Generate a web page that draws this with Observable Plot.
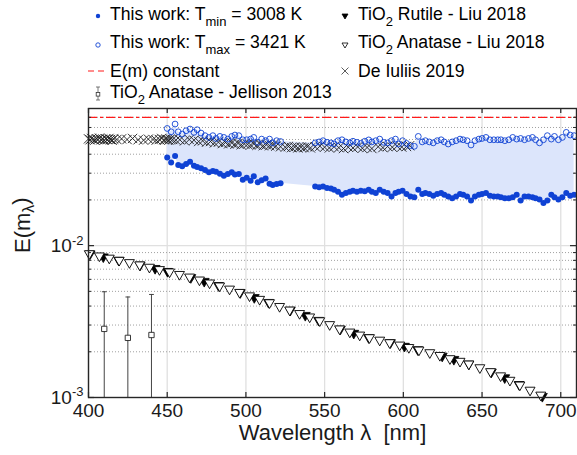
<!DOCTYPE html>
<html>
<head>
<meta charset="utf-8">
<script src="https://cdn.jsdelivr.net/npm/d3@7"></script>
<script src="https://cdn.jsdelivr.net/npm/@observablehq/plot@0.6"></script>
<style>
  html, body { margin: 0; padding: 0; background: #fff; }
  #wrap { width: 577px; height: 455px; position: relative; font-family: "Liberation Sans", Arial, Helvetica, sans-serif; }
  #wrap svg { display: block; }
  #legend { position: absolute; left: 0; top: 0; z-index: 2; overflow: visible; }
  #plotholder { position: absolute; left: 0; top: 100px; }
</style>
</head>
<body>
<div id="wrap"><div id="plotholder"></div></div>
<script>
// ---------------- data ----------------
const xTicks = [400, 450, 500, 550, 600, 650, 700];
const yTicksMajor = [0.001, 0.01];
const yTicksMinor = [0.002, 0.003, 0.004, 0.005, 0.006, 0.007, 0.008, 0.009, 0.02, 0.03, 0.04, 0.05, 0.06, 0.07];
const emConstant = 0.07;

// This work (T_min filled, T_max open)
const lambdaThisWork = [450, 452.5, 455, 457, 459.5, 462, 464.5, 467, 469, 471.5, 474, 476.5, 479, 481, 483.5, 486, 488.5, 491, 493, 495.5, 498, 500.5, 503, 505, 507.5, 510, 512.5, 515, 517, 519.5, 522,
  544, 546.5, 549, 551.5, 554, 556, 558.5, 561, 563.5, 566, 568, 570.5, 573, 575.5, 578, 580, 582.5, 585, 587.5, 590, 592.5, 595, 597, 599.5, 602, 604.5, 607, 609.5, 612, 614, 616.5, 619, 621.5, 624, 626, 628.5, 631, 633.5, 636, 638, 640.5, 643, 645.5, 648, 650, 652.5, 655, 657.5, 660, 662, 664.5, 667, 669.5, 672, 674.5, 677, 679.5, 682, 684, 686.5, 689, 691.5, 694, 696, 698.5, 701, 703.5, 706, 708.5];
const tMinValues = [0.0381, 0.0353, 0.0390, 0.0340, 0.0333, 0.0345, 0.0357, 0.0336, 0.0330, 0.0323, 0.0315, 0.0304, 0.0310, 0.0307, 0.0298, 0.0289, 0.0296, 0.0304, 0.0294, 0.0296, 0.0272, 0.0280, 0.0268, 0.0286, 0.0261, 0.0270, 0.0277, 0.0256, 0.0251, 0.0255, 0.0258,
  0.0245, 0.0242, 0.0245, 0.0240, 0.0238, 0.0233, 0.0226, 0.0216, 0.0222, 0.0226, 0.0230, 0.0226, 0.0230, 0.0228, 0.0233, 0.0226, 0.0222, 0.0233, 0.0226, 0.0222, 0.0211, 0.0222, 0.0226, 0.0230, 0.0219, 0.0211, 0.0208, 0.0233, 0.0219, 0.0222, 0.0219, 0.0213, 0.0219, 0.0222, 0.0216, 0.0211, 0.0205, 0.0211, 0.0219, 0.0216, 0.0211, 0.0198, 0.0211, 0.0216, 0.0219, 0.0222, 0.0213, 0.0211, 0.0211, 0.0208, 0.0205, 0.0205, 0.0208, 0.0216, 0.0198, 0.0211, 0.0211, 0.0208, 0.0205, 0.0201, 0.0191, 0.0198, 0.0216, 0.0208, 0.0201, 0.0208, 0.0222, 0.0213, 0.0216];
const tMaxValues = [0.0591, 0.0562, 0.0632, 0.0562, 0.0543, 0.0571, 0.0586, 0.0557, 0.0580, 0.0551, 0.0530, 0.0516, 0.0530, 0.0508, 0.0524, 0.0516, 0.0503, 0.0524, 0.0535, 0.0530, 0.0498, 0.0498, 0.0503, 0.0516, 0.0479, 0.0503, 0.0491, 0.0503, 0.0475, 0.0491, 0.0485,
  0.0475, 0.0482, 0.0491, 0.0479, 0.0475, 0.0468, 0.0491, 0.0498, 0.0482, 0.0475, 0.0487, 0.0479, 0.0471, 0.0487, 0.0497, 0.0482, 0.0491, 0.0503, 0.0479, 0.0475, 0.0491, 0.0503, 0.0467, 0.0491, 0.0471, 0.0455, 0.0451, 0.0524, 0.0482, 0.0491, 0.0482, 0.0475, 0.0491, 0.0498, 0.0482, 0.0467, 0.0482, 0.0491, 0.0503, 0.0498, 0.0491, 0.0460, 0.0491, 0.0503, 0.0508, 0.0516, 0.0498, 0.0498, 0.0498, 0.0498, 0.0491, 0.0498, 0.0516, 0.0503, 0.0508, 0.0498, 0.0508, 0.0516, 0.0498, 0.0475, 0.0498, 0.0530, 0.0503, 0.0524, 0.0498, 0.0516, 0.0557, 0.0535, 0.0530];

// De Iuliis 2019
const lambdaDeIuliis = [400, 401, 402, 403, 404, 405, 406, 407, 408, 409, 410, 411, 412, 413, 414, 415, 416, 418, 421, 424.5, 428, 431.5, 435, 438, 441, 443, 445, 446.5, 448, 449, 450, 451, 452, 453.5, 455.5, 458, 461, 464, 467, 470, 472.5, 475, 477.5, 480, 482.5, 485, 487, 489, 491, 493, 495, 497, 499, 501, 503, 505, 507, 509, 511, 513, 515, 517, 519, 522, 525, 527, 529, 531, 533, 535, 537, 539, 541, 544, 547, 550, 553, 556, 559, 562, 565, 568, 571, 574, 577, 580, 584, 587, 590, 593, 596, 599, 602, 604];
const deIuliisValues = [0.0505, 0.0498, 0.0508, 0.0500, 0.0495, 0.0505, 0.0500, 0.0510, 0.0498, 0.0503, 0.0495, 0.0505, 0.0500, 0.0508, 0.0500, 0.0495, 0.0503, 0.0500, 0.0505, 0.0500, 0.0508, 0.0498, 0.0495, 0.0503, 0.0500, 0.0495, 0.0500, 0.0508, 0.0498, 0.0503, 0.0500, 0.0495, 0.0503, 0.0500, 0.0495, 0.0498, 0.0490, 0.0500, 0.0495, 0.0485, 0.0490, 0.0480, 0.0485, 0.0475, 0.0480, 0.0470, 0.0478, 0.0468, 0.0475, 0.0465, 0.0472, 0.0462, 0.0468, 0.0465, 0.0460, 0.0468, 0.0458, 0.0465, 0.0455, 0.0462, 0.0455, 0.0460, 0.0452, 0.0448, 0.0445, 0.0450, 0.0442, 0.0446, 0.0440, 0.0445, 0.0442, 0.0448, 0.0440, 0.0448, 0.0452, 0.0445, 0.0440, 0.0448, 0.0442, 0.0436, 0.0445, 0.0440, 0.0447, 0.0438, 0.0443, 0.0436, 0.0448, 0.0442, 0.0450, 0.0445, 0.0452, 0.0446, 0.0450, 0.0455];

// TiO2 Rutile - Liu 2018 (filled triangles)
const lambdaRutile = [401, 409.4, 419.2, 432.8, 442.3, 450.2, 465, 473.5, 482.6, 496.4, 505.3, 514.4, 528.2, 537.7, 546.2, 560, 568.5, 578, 591.8, 600.7, 609.2, 624.7, 632.1, 641.6, 655.9, 664.4, 673.5, 688.3];
const rutileValues = [0.00877, 0.00838, 0.00796, 0.00740, 0.00703, 0.00672, 0.00612, 0.00578, 0.00542, 0.00487, 0.00452, 0.00420, 0.00373, 0.00345, 0.00320, 0.00280, 0.00263, 0.00246, 0.00228, 0.00216, 0.00205, 0.00186, 0.00177, 0.00165, 0.00146, 0.00134, 0.00121, 0.00101];

// TiO2 Anatase - Liu 2018 (open triangles)
const lambdaAnatase = [400.5, 406.9, 413.2, 419.5, 426, 432.5, 438.7, 445.1, 451.5, 457.8, 464.2, 470.5, 476.9, 483.3, 489.6, 496, 502.3, 508.7, 515, 521.4, 527.8, 534.1, 540.5, 546.9, 553.2, 559.5, 566, 572.3, 578.5, 585, 591.3, 597.7, 603.5, 609.9, 616.8, 623.2, 629.6, 636, 641.6, 648.6, 655.4, 661.8, 667.7, 674, 680.5, 687.3];
const anataseValues = [0.00879, 0.00850, 0.00822, 0.00795, 0.00768, 0.00742, 0.00716, 0.00691, 0.00667, 0.00642, 0.00617, 0.00590, 0.00564, 0.00539, 0.00514, 0.00489, 0.00464, 0.00440, 0.00418, 0.00395, 0.00374, 0.00355, 0.00337, 0.00318, 0.00300, 0.00281, 0.00268, 0.00256, 0.00246, 0.00237, 0.00228, 0.00220, 0.00212, 0.00204, 0.00196, 0.00188, 0.00179, 0.00172, 0.00165, 0.00156, 0.00147, 0.00138, 0.00129, 0.00120, 0.00111, 0.00103];

// TiO2 Anatase - Jellison 2013 (error bars)
const lambdaJellison = [410, 425, 440];
const jellisonValues = [0.00283, 0.00247, 0.00258];
const jellisonUpper = [0.00497, 0.00459, 0.00477];
const jellisonLower = [0.0006, 0.0005, 0.0005];

// text
const xLabel = "Wavelength \u03bb  [nm]";
const yLabelParts = ["E(m", "\u03bb", ")"];
const legendLabels = [
  [["This work: T", ""], ["min", "sub"], [" = 3008 K", ""]],
  [["This work: T", ""], ["max", "sub"], [" = 3421 K", ""]],
  [["E(m) constant", ""]],
  [["TiO", ""], ["2", "sub"], [" Anatase - Jellison 2013", ""]],
  [["TiO", ""], ["2", "sub"], [" Rutile - Liu 2018", ""]],
  [["TiO", ""], ["2", "sub"], [" Anatase - Liu 2018", ""]],
  [["De Iuliis 2019", ""]]
];

// ---------------- styles ----------------
const BLUE = "#0f42d4";
const FILL = "#dce5fb";
const W = 577, H = 355, mT = 8, mB = 58, mL = 88, mR = 1;
const innerW = W - mL - mR, innerH = H - mT - mB;

const thisWork = lambdaThisWork.map((x, i) => ({x, lo: tMinValues[i], hi: tMaxValues[i]}));
const deIuliis = lambdaDeIuliis.map((x, i) => ({x, y: deIuliisValues[i]}));
const rutile = lambdaRutile.map((x, i) => ({x, y: rutileValues[i]}));
const anatase = lambdaAnatase.map((x, i) => ({x, y: anataseValues[i]}));
const jellison = lambdaJellison.map((x, i) => ({x, v: jellisonValues[i], hi: jellisonUpper[i], lo: jellisonLower[i]}));

const triangleDown = {
  draw(ctx, size) {
    const s = Math.sqrt(size);
    ctx.moveTo(-0.8 * s, -0.55 * s);
    ctx.lineTo(0.8 * s, -0.55 * s);
    ctx.lineTo(0, 0.85 * s);
    ctx.closePath();
  }
};
const capSymbol = {
  draw(ctx, size) {
    const s = Math.sqrt(size);
    ctx.moveTo(-0.45 * s, 0);
    ctx.lineTo(0.45 * s, 0);
  }
};

const wrap = document.getElementById("wrap");

// ---------------- plot ----------------
const plot = Plot.plot({
  width: W, height: H,
  marginTop: mT, marginBottom: mB, marginLeft: mL, marginRight: mR,
  x: {domain: [400, 710]},
  y: {type: "log", domain: [0.001, 0.08]},
  style: {fontFamily: "Liberation Sans, Arial, Helvetica, sans-serif", fontSize: "19px", color: "#1a1a1a", background: "white", overflow: "visible"},
  marks: [
    // grid
    Plot.ruleX(xTicks, {stroke: "#e0e0e0", strokeWidth: 1.3}),
    Plot.ruleY(yTicksMinor, {stroke: "#a0a0a0", strokeWidth: 1, strokeDasharray: "1,2"}),
    Plot.ruleY([0.01], {stroke: "#e0e0e0", strokeWidth: 1.3}),
    // shaded band
    Plot.areaY(thisWork, {x: "x", y1: "lo", y2: "hi", fill: FILL, curve: "linear"}),
    // E(m) constant
    Plot.ruleY([emConstant], {stroke: "#ff1a1a", strokeWidth: 1.3, strokeDasharray: "9,3,3,3"}),
    // De Iuliis
    Plot.dot(deIuliis, {x: "x", y: "y", symbol: "times", r: 4.3, stroke: "#1e1e1e", strokeWidth: 0.9}),
    // Liu 2018
    Plot.dot(rutile, {x: "x", y: "y", symbol: triangleDown, r: 3.5, fill: "#000", stroke: "#000", strokeWidth: 0.8}),
    Plot.dot(anatase, {x: "x", y: "y", symbol: triangleDown, r: 3.5, fill: "#fff", stroke: "#000", strokeWidth: 0.9}),
    // Jellison error bars
    Plot.ruleX(jellison, {x: "x", y1: "lo", y2: "hi", stroke: "#444", strokeWidth: 1, clip: true}),
    Plot.dot(jellison, {x: "x", y: "hi", symbol: capSymbol, r: 3, stroke: "#444", strokeWidth: 1}),
    Plot.dot(jellison, {x: "x", y: "v", symbol: "square", r: 3, fill: "#fff", stroke: "#222", strokeWidth: 0.9}),
    // This work
    Plot.dot(thisWork, {x: "x", y: "hi", r: 2.9, fill: "none", stroke: BLUE, strokeWidth: 0.9}),
    Plot.dot(thisWork, {x: "x", y: "lo", r: 3, fill: BLUE, stroke: "none"}),
    // box + inward ticks
    Plot.frame({stroke: "#262626", strokeWidth: 1.4}),
    Plot.ruleX(xTicks, {insetTop: innerH - 5, stroke: "#262626", strokeWidth: 1.2}),
    Plot.ruleX(xTicks, {insetBottom: innerH - 5, stroke: "#262626", strokeWidth: 1.2}),
    Plot.ruleY(yTicksMajor, {insetRight: innerW - 6, stroke: "#262626", strokeWidth: 1.2}),
    Plot.ruleY(yTicksMajor, {insetLeft: innerW - 6, stroke: "#262626", strokeWidth: 1.2}),
    Plot.ruleY(yTicksMinor, {insetRight: innerW - 3, stroke: "#262626", strokeWidth: 1}),
    Plot.ruleY(yTicksMinor, {insetLeft: innerW - 3, stroke: "#262626", strokeWidth: 1}),
    // axes labels
    Plot.axisX({ticks: xTicks, tickSize: 0, tickPadding: 6, tickFormat: d => String(d), label: null}),
    Plot.axisY({ticks: yTicksMajor, tickSize: 0, tickPadding: 5, tickFormat: d => "10^" + String(Math.round(Math.log10(d))).replace("\u2212", "-"), label: null}),
    Plot.text([xLabel], {frameAnchor: "bottom", dy: 42, fontSize: 22, fill: "#1a1a1a"}),
    Plot.text([yLabelParts.join("")], {frameAnchor: "left", dx: -66, rotate: -90, fontSize: 22, fill: "#1a1a1a"})
  ]
});
document.getElementById("plotholder").appendChild(plot);

// superscripts on y tick labels
d3.select(plot).selectAll('g[aria-label="y-axis tick label"] text').each(function () {
  const t = d3.select(this);
  const [base, exp] = t.text().split("^");
  t.text(null);
  t.append("tspan").text(base);
  t.append("tspan").attr("dy", "-0.55em").attr("font-size", "13px").text(exp);
});
// subscript on y axis label
d3.select(plot).selectAll("text").each(function () {
  const t = d3.select(this);
  if (t.text() === yLabelParts.join("")) {
    t.text(null);
    t.append("tspan").text(yLabelParts[0]);
    t.append("tspan").attr("dy", "0.3em").attr("font-size", "16px").text(yLabelParts[1]);
    t.append("tspan").attr("dy", "-0.3em").text(yLabelParts[2]);
  }
});

// ---------------- legend (above the plot) ----------------
const legendSvg = d3.create("svg").attr("id", "legend").attr("width", W).attr("height", 108)
  .attr("font-family", "Liberation Sans, Arial, Helvetica, sans-serif").attr("font-size", 17.6);
const colIcon = [98, 345], colText = [110, 358];
const rowBase = [20, 48, 77, 98], rowMid = [16, 45, 71, 93];
const legendPos = [[0,0],[0,1],[0,2],[0,3],[1,0],[1,1],[1,2]];
const icons = ["dotFilled", "dotOpen", "dash", "errbar", "triFilled", "triOpen", "times"];
legendLabels.forEach((segs, k) => {
  const [c, r] = legendPos[k];
  const t = legendSvg.append("text").attr("x", colText[c]).attr("y", rowBase[r]).attr("fill", "#000");
  let shifted = false;
  segs.forEach(([str, kind]) => {
    const ts = t.append("tspan").text(str);
    if (kind === "sub") { ts.attr("font-size", 13).attr("dy", 6); shifted = true; }
    else if (shifted) { ts.attr("dy", -6); shifted = false; }
  });
  const g = legendSvg.append("g").attr("transform", `translate(${colIcon[c]},${rowMid[r]})`);
  const type = icons[k];
  if (type === "dotFilled") g.append("circle").attr("r", 2.2).attr("fill", BLUE);
  if (type === "dotOpen") g.append("circle").attr("r", 2.2).attr("fill", "none").attr("stroke", BLUE).attr("stroke-width", 0.9);
  if (type === "dash") g.append("line").attr("x1", -10).attr("x2", 7).attr("stroke", "#ff1a1a").attr("stroke-width", 1.2).attr("stroke-dasharray", "6,4");
  if (type === "errbar") {
    g.append("line").attr("y1", -6).attr("y2", 7).attr("stroke", "#555").attr("stroke-width", 0.8);
    g.append("line").attr("x1", -2).attr("x2", 2).attr("y1", -6).attr("y2", -6).attr("stroke", "#555").attr("stroke-width", 0.8);
    g.append("line").attr("x1", -2).attr("x2", 2).attr("y1", 7).attr("y2", 7).attr("stroke", "#555").attr("stroke-width", 0.8);
    g.append("rect").attr("x", -1.8).attr("y", -0.5).attr("width", 3.6).attr("height", 3.6).attr("fill", "#fff").attr("stroke", "#333").attr("stroke-width", 0.8);
  }
  if (type === "triFilled" || type === "triOpen") {
    g.append("path").attr("d", "M-3,-2L3,-2L0,3Z").attr("fill", type === "triFilled" ? "#000" : "#fff").attr("stroke", "#000").attr("stroke-width", 0.8);
  }
  if (type === "times") g.append("path").attr("d", "M-3.5,-3.5L3.5,3.5M-3.5,3.5L3.5,-3.5").attr("stroke", "#333").attr("stroke-width", 0.8);
});
wrap.appendChild(legendSvg.node());
</script>
</body>
</html>
